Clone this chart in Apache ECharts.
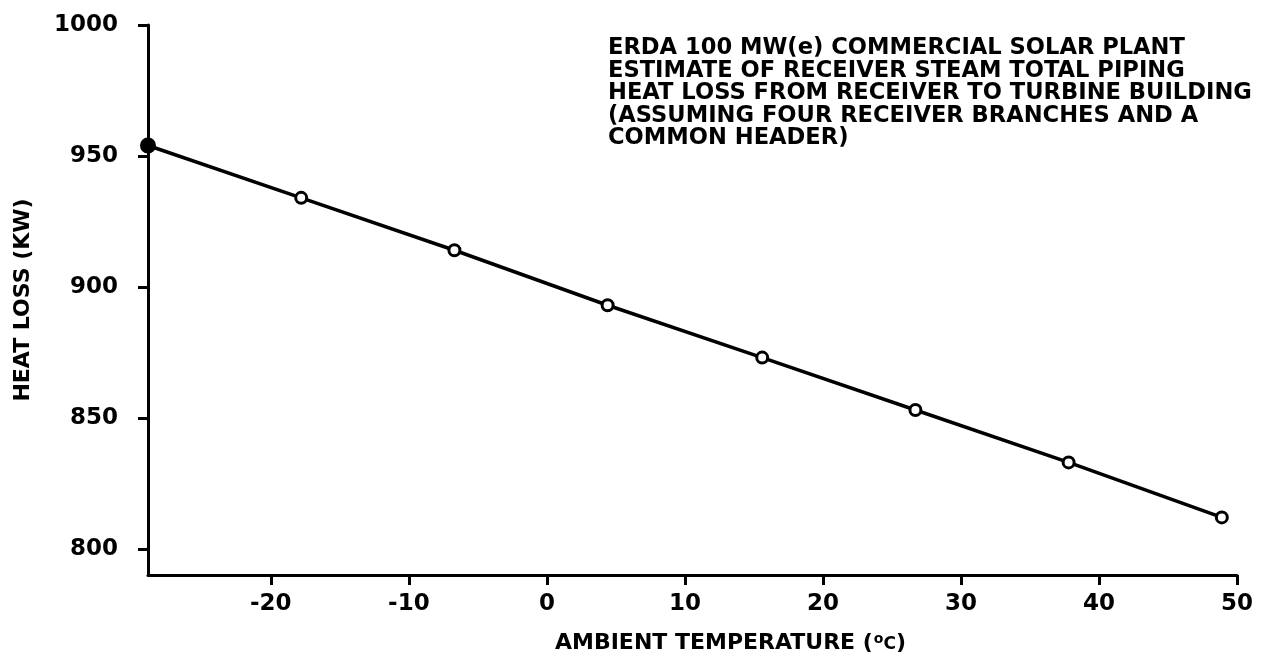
<!DOCTYPE html>
<html>
<head>
<meta charset="utf-8">
<script src="https://cdn.jsdelivr.net/npm/echarts@6/dist/echarts.min.js"></script>
<style>
  html, body { margin: 0; padding: 0; background: #fff; }
  #chart { width: 1274px; height: 663px; }
</style>
</head>
<body>
<div id="chart"></div>
<script>
// Ambient temperature (°C) at each computed point (0 °F to 120 °F in 20 °F steps)
const temperatureC = [-28.9, -17.8, -6.7, 4.4, 15.6, 26.7, 37.8, 48.9];
// Total piping heat loss (kW) at each temperature
const heatLossKW = [954, 934, 914, 893, 873, 853, 833, 812];
// Axis tick values
const xTicks = [-20, -10, 0, 10, 20, 30, 40, 50];
const yTicks = [800, 850, 900, 950, 1000];
const titleLines = [
  'ERDA 100 MW(e) COMMERCIAL SOLAR PLANT',
  'ESTIMATE OF RECEIVER STEAM TOTAL PIPING',
  'HEAT LOSS FROM RECEIVER TO TURBINE BUILDING',
  '(ASSUMING FOUR RECEIVER BRANCHES AND A',
  'COMMON HEADER)'
];

const FONT = '"DejaVu Sans", "Liberation Sans", sans-serif';
const INK = '#000';

const points = temperatureC.map((t, i) => {
  const p = { value: [t, heatLossKW[i]] };
  if (i === 0) {
    // first point drawn as a solid dot on the axis
    p.symbolSize = 13;
    p.itemStyle = { color: INK, borderColor: INK };
  }
  return p;
});

const chart = echarts.init(document.getElementById('chart'), null, { renderer: 'canvas' });
chart.setOption({
  backgroundColor: '#fff',
  animation: false,
  title: {
    text: titleLines.join('\n'),
    left: 603,
    top: 32,
    textStyle: {
      fontFamily: FONT,
      fontWeight: 'bold',
      fontSize: 22.6,
      lineHeight: 22.5,
      color: INK
    }
  },
  grid: { left: 148, right: 37, top: 25, bottom: 88 },
  xAxis: {
    type: 'value',
    min: -28.9,
    max: 50,
    name: '{a|AMBIENT TEMPERATURE (}{s|o}{c|C}{a|)}',
    nameLocation: 'middle',
    nameGap: 56,
    nameTextStyle: {
      padding: [0, 0, 0, 76],
      rich: {
        a: { fontFamily: FONT, fontWeight: 'bold', fontSize: 22, lineHeight: 24, color: INK },
        s: { fontFamily: FONT, fontWeight: 'bold', fontSize: 14, lineHeight: 14, color: INK, verticalAlign: 'top', padding: [1, 0, 0, 1] },
        c: { fontFamily: FONT, fontWeight: 'bold', fontSize: 17, lineHeight: 17, color: INK, verticalAlign: 'bottom', padding: [0, 0, 2, 0] }
      }
    },
    axisLine: { show: true, onZero: false, lineStyle: { color: INK, width: 3 } },
    axisTick: { show: true, customValues: xTicks, length: 10, inside: false, lineStyle: { color: INK, width: 3 } },
    axisLabel: {
      customValues: xTicks,
      margin: 18,
      formatter: v => String(v),
      fontFamily: FONT,
      fontWeight: 'bold',
      fontSize: 23,
      color: INK
    },
    splitLine: { show: false }
  },
  yAxis: {
    type: 'value',
    min: 790,
    max: 1000,
    name: 'HEAT LOSS (KW)',
    nameLocation: 'middle',
    nameGap: 114,
    nameTextStyle: {
      fontFamily: FONT,
      fontWeight: 'bold',
      fontSize: 22,
      color: INK
    },
    axisLine: { show: true, onZero: false, lineStyle: { color: INK, width: 3 } },
    axisTick: { show: true, customValues: yTicks, length: 10, inside: false, lineStyle: { color: INK, width: 3 } },
    axisLabel: {
      customValues: yTicks,
      margin: 30,
      formatter: v => String(v),
      fontFamily: FONT,
      fontWeight: 'bold',
      fontSize: 23,
      color: INK
    },
    splitLine: { show: false }
  },
  series: [{
    type: 'line',
    data: points,
    symbol: 'circle',
    symbolSize: 11,
    showAllSymbol: true,
    lineStyle: { color: INK, width: 3.5 },
    itemStyle: { color: '#fff', borderColor: INK, borderWidth: 3 },
    z: 3
  }]
});
</script>
</body>
</html>
